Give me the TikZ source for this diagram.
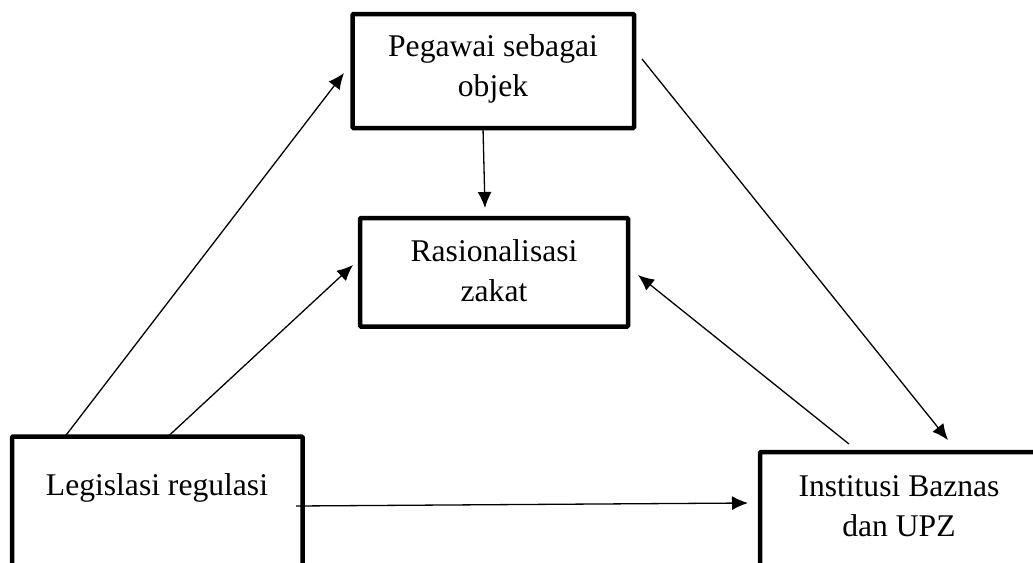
\documentclass[tikz,border=0pt]{standalone}
\usepackage{fontspec}
\setmainfont{Liberation Serif}
\usetikzlibrary{arrows.meta,calc}
\begin{document}
\begin{tikzpicture}[x=1pt,y=-1pt,
  box/.style={draw, line width=4.5pt, outer sep=0pt, inner sep=0pt, rounded corners=1pt},
  txt/.style={font=\fontsize{31.6}{40}\selectfont, align=center, inner sep=0pt, anchor=base},
  conn/.style={line width=1.3pt, -{Latex[length=16pt,width=14pt]}}]
\useasboundingbox (0,0) rectangle (1033,562);
\clip (0,0) rectangle (1033,562);
\fill[white] (0,0) rectangle (1033,562);
% boxes
\node[box, minimum width=281.5pt, minimum height=114pt] (peg) at (493.25,71) {};
\node[box, minimum width=268pt, minimum height=108.5pt] (ras) at (494,272.25) {};
\node[box, minimum width=290.5pt, minimum height=183.5pt] (leg) at (157.25,528.25) {};
\node[box, minimum width=280pt, minimum height=168pt] (ins) at (900,536) {};
% texts (base anchor = baseline of the last line)
\node[txt] (pegt) at (493,96.7) {Pegawai sebagai\\objek};
\node[txt] (rast) at (494,301.7) {Rasionalisasi\\zakat};
\node[txt] (legt) at (157,495) {Legislasi regulasi};
\node[txt] (inst) at (899,536.7) {Institusi Baznas\\dan UPZ};
% connectors
\draw[conn] ($(leg.north west)+(53,0)$) -- ($(peg.north west)+(-8.5,59)$);
\draw[conn] ($(leg.north west)+(156,0)$) -- ($(ras.north west)+(-7,47)$);
\draw[conn] ($(peg.south west)+(130.5,0)$) -- ($(ras.north west)+(125,-10)$);
\draw[conn] ($(peg.north east)+(8,45)$) -- ($(ins.north west)+(188,-12)$);
\draw[conn] ($(ins.north west)+(89,-8)$) -- ($(ras.north east)+(10,57)$);
\draw[conn] ($(leg.north east)+(-6.5,69.5)$) -- ($(ins.north west)+(-12,51)$);
\end{tikzpicture}
\end{document}
